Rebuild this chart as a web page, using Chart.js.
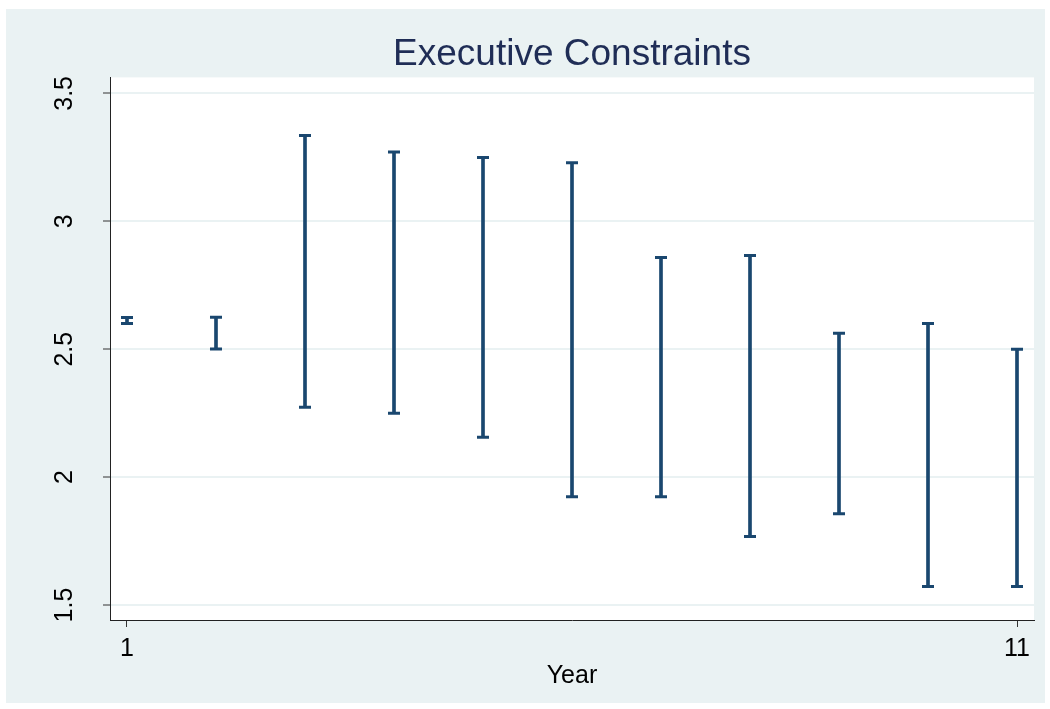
<!DOCTYPE html>
<html>
<head>
<meta charset="utf-8">
<script src="https://cdn.jsdelivr.net/npm/chart.js@4.4.1/dist/chart.umd.min.js"></script>
<style>
  html, body { margin: 0; padding: 0; background: #ffffff; }
  #wrap { width: 1050px; height: 709px; position: relative; }
</style>
</head>
<body>
<div id="wrap"><canvas id="c" width="1050" height="709"></canvas></div>
<script>
// ---- data ----
const years = [1, 2, 3, 4, 5, 6, 7, 8, 9, 10, 11];
const upper = [2.624, 2.625, 3.335, 3.271, 3.249, 3.229, 2.858, 2.866, 2.5625, 2.600, 2.500];
const lower = [2.600, 2.501, 2.273, 2.250, 2.156, 1.923, 1.923, 1.768, 1.857, 1.572, 1.572];
const xTickValues = [1, 11];
const yTickValues = [1.5, 2, 2.5, 3, 3.5];
const yTickLabels = ['1.5', '2', '2.5', '3', '3.5'];
const titleText = 'Executive Constraints';
const xTitle = 'Year';

const NAVY = '#1a476f';
const FONT = "'Liberation Sans', Arial, sans-serif";

const bgPlugin = {
  id: 'stataBg',
  beforeDraw(chart) {
    const ctx = chart.ctx;
    const a = chart.chartArea;
    ctx.save();
    ctx.fillStyle = '#eaf2f3';
    ctx.fillRect(6, 9, 1039, 694);
    ctx.fillStyle = '#ffffff';
    ctx.fillRect(a.left, a.top, a.right - a.left, a.bottom - a.top);
    ctx.restore();
  }
};

new Chart(document.getElementById('c'), {
  type: 'bar',
  data: {
    datasets: [
      {
        type: 'bar',
        label: 'range',
        data: years.map((x, i) => ({ x: x, y: [lower[i], upper[i]] })),
        backgroundColor: NAVY,
        borderWidth: 0,
        barThickness: 3,
        grouped: false
      },
      {
        type: 'scatter',
        label: 'caps',
        data: years.map((x, i) => ({ x: x, y: upper[i] }))
          .concat(years.map((x, i) => ({ x: x, y: lower[i] }))),
        showLine: false,
        pointStyle: 'line',
        pointRadius: 6,
        pointHoverRadius: 6,
        pointBorderWidth: 3,
        borderColor: NAVY,
        backgroundColor: NAVY
      }
    ]
  },
  options: {
    responsive: false,
    animation: false,
    events: [],
    layout: { padding: { left: 0, right: 16, top: 0, bottom: 0 } },
    plugins: {
      legend: { display: false },
      tooltip: { enabled: false },
      title: {
        display: true,
        text: titleText,
        fullSize: false,
        color: '#1f2d56',
        font: { family: FONT, size: 37, weight: 'normal', lineHeight: 1.2 },
        padding: { top: 33, bottom: 0 }
      }
    },
    scales: {
      x: {
        type: 'linear',
        min: 0.809,
        max: 11.191,
        offset: false,
        afterBuildTicks: (s) => { s.ticks = xTickValues.map(v => ({ value: v })); },
        afterFit: (s) => { s.height = 89; },
        grid: { offset: false, drawOnChartArea: false, drawTicks: true, tickLength: 7, tickColor: '#333333', tickWidth: 1 },
        border: { display: true, color: '#222222', width: 1 },
        ticks: {
          color: '#000000',
          font: { family: FONT, size: 25 },
          padding: 7,
          maxRotation: 0,
          autoSkip: false
        },
        title: {
          display: true,
          text: xTitle,
          color: '#000000',
          font: { family: FONT, size: 25 },
          padding: { top: 0, bottom: 18 }
        }
      },
      y: {
        type: 'linear',
        min: 1.4414,
        max: 3.5625,
        afterBuildTicks: (s) => { s.ticks = yTickValues.map(v => ({ value: v })); },
        afterFit: (s) => { s.width = 110; },
        grid: { offset: false, drawOnChartArea: true, color: '#eaf2f3', lineWidth: 2, drawTicks: true, tickLength: 7, tickColor: '#333333', tickWidth: 1 },
        border: { display: true, color: '#222222', width: 1 },
        ticks: {
          color: '#000000',
          font: { family: FONT, size: 25 },
          minRotation: 90,
          maxRotation: 90,
          crossAlign: 'center',
          padding: 21,
          autoSkip: false,
          callback: (value) => {
            const k = yTickValues.indexOf(value);
            return k >= 0 ? yTickLabels[k] : String(value);
          }
        }
      }
    }
  },
  plugins: [bgPlugin]
});
</script>
</body>
</html>
